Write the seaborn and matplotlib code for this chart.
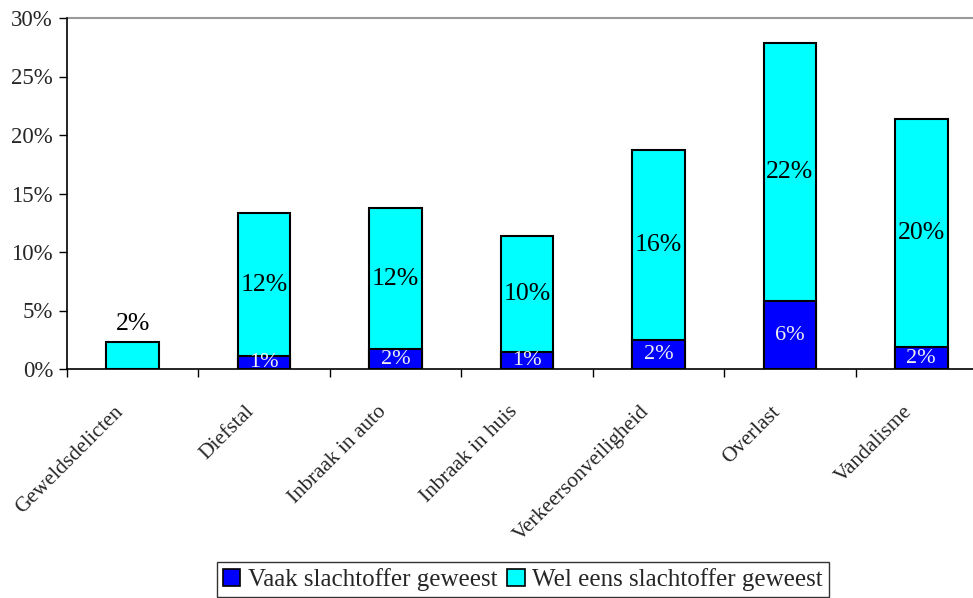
import matplotlib
matplotlib.use("Agg")
import matplotlib.pyplot as plt
import matplotlib.transforms as mtransforms
import seaborn as sns
import pandas as pd
import numpy as np
from matplotlib.patches import Patch
from matplotlib.ticker import FixedLocator, FuncFormatter

categories = ["Geweldsdelicten", "Diefstal", "Inbraak in auto", "Inbraak in huis",
              "Verkeersonveiligheid", "Overlast", "Vandalisme"]
vaak = [0.0, 1.1, 1.7, 1.45, 2.5, 5.8, 1.85]
wel = [2.3, 12.2, 12.05, 9.9, 16.2, 22.1, 19.55]
series_names = ["Vaak slachtoffer geweest", "Wel eens slachtoffer geweest"]
y_ticks = [0, 5, 10, 15, 20, 25, 30]

sns.set_style("white")
plt.rcParams["font.family"] = ["Liberation Serif", "DejaVu Serif"]

df = pd.DataFrame({"cat": categories, "vaak": vaak, "wel": wel})
df["total"] = df["vaak"] + df["wel"]

fig = plt.figure(figsize=(9.73, 5.98), dpi=100)
ax = fig.add_axes([67 / 973, 229 / 598, 920 / 973, 351 / 598])

sns.barplot(data=df, x="cat", y="total", color="#00FFFF", width=0.4,
            edgecolor="black", linewidth=1.5, saturation=1, ax=ax, zorder=2)
sns.barplot(data=df[df["vaak"] > 0], x="cat", y="vaak", order=categories,
            color="#0000FF", width=0.4, edgecolor="black", linewidth=1.5,
            saturation=1, ax=ax, zorder=3)

ax.set_xlim(-0.5, len(categories) - 0.5)
ax.set_ylim(0, 30)
ax.yaxis.set_major_locator(FixedLocator(y_ticks))
ax.yaxis.set_major_formatter(FuncFormatter(lambda v, p: f"{int(v)}%"))
ax.tick_params(axis="y", which="major", direction="out", length=6, width=1,
               color="black", labelsize=16.5, pad=4, left=True)
ax.set_xticks(range(len(categories)))
ax.set_xticklabels(categories, rotation=45, ha="right", rotation_mode="anchor",
                   fontsize=15.5)
ax.tick_params(axis="x", which="major", length=0, pad=24)
offset = mtransforms.ScaledTranslation(-19 / 100, 0, fig.dpi_scale_trans)
for lbl in ax.get_xticklabels():
    lbl.set_transform(lbl.get_transform() + offset)
ax.set_xticks(np.arange(-0.5, len(categories) + 0.5, 1), minor=True)
ax.tick_params(axis="x", which="minor", direction="out", length=6, width=1,
               color="black", bottom=True)
ax.set_xlabel("")
ax.set_ylabel("")

for side in ["left", "bottom"]:
    ax.spines[side].set_color("black")
    ax.spines[side].set_linewidth(1.2)
ax.spines["top"].set_color("#999999")
ax.spines["top"].set_linewidth(1.5)
ax.spines["right"].set_visible(False)
ax.spines["left"].set_zorder(5)
ax.spines["bottom"].set_zorder(5)

for i, (v, w) in enumerate(zip(vaak, wel)):
    if v > 0:
        ax.text(i, v / 2, f"{round(v)}%", ha="center", va="center",
                color="#F0F0F0", fontsize=16, zorder=4, clip_on=True)
    if w < 4:
        ax.annotate(f"{round(w)}%", (i, v + w), xytext=(0, 5),
                    textcoords="offset points", ha="center", va="bottom",
                    fontsize=18.5, color="black")
    else:
        ax.text(i, v + w / 2, f"{round(w)}%", ha="center", va="center",
                color="black", fontsize=18.5, zorder=4)

handles = [Patch(facecolor="#0000FF", edgecolor="black", linewidth=1.2),
           Patch(facecolor="#00FFFF", edgecolor="black", linewidth=1.2)]
leg = fig.legend(handles, series_names, loc="upper center",
                 bbox_to_anchor=(523 / 973, 1 - 562 / 598), ncol=2,
                 fontsize=18, frameon=True, fancybox=False, edgecolor="black",
                 handlelength=0.7, handleheight=0.7, handletextpad=0.3,
                 columnspacing=0.4, borderpad=0.25, borderaxespad=0)
leg.get_frame().set_linewidth(1.0)

fig.savefig("out.png", dpi=100)
